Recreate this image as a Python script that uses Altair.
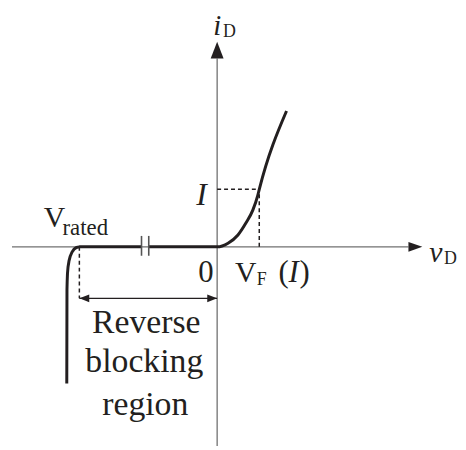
import altair as alt
import pandas as pd

# ---- diagram data (schematic units: origin at 0, v to the right, i upward) ----
# forward-conduction branch of the diode characteristic
fwd_v = [-69, -40, -10, 0, 11, 21, 29, 36, 41, 42.5, 70]
fwd_i = [0, 0, 0, 0, 3.7, 12, 24, 37, 52, 58, 137]
# reverse-blocking branch ending in breakdown at V_rated
rev_v = [-76.3, -110, -139, -142, -144.5, -146.5, -148.2, -149.5, -150.4, -151, -151.3, -151.5, -151.7]
rev_i = [0, 0, 0, -0.7, -2.5, -5.5, -9.5, -14.5, -20, -27, -35, -43, -138]

# operating point and rated voltage
V_F, I_OP = 42.5, 58
V_RATED = -139
REGION_LEVEL = -52          # height of the "reverse blocking region" dimension arrow
BREAK_V = [-76.3, -69]      # axis-break marks on the reverse branch

# axes extents
X_MIN, X_MAX = -211, 243
Y_MIN, Y_MAX = -201, 239

INK = "#231f20"
AXIS = "#707070"
SERIF = "Liberation Serif"

xs = alt.Scale(domain=[X_MIN, X_MAX], nice=False, zero=False)
ys = alt.Scale(domain=[Y_MIN, Y_MAX], nice=False, zero=False)


def X(f="x"):
    return alt.X(f"{f}:Q", scale=xs, axis=None)


def Y(f="y"):
    return alt.Y(f"{f}:Q", scale=ys, axis=None)


# curves
fwd_df = pd.DataFrame({"x": fwd_v, "y": fwd_i})
rev_df = pd.DataFrame({"x": rev_v, "y": rev_i, "o": list(range(len(rev_v)))})

fwd = alt.Chart(fwd_df).mark_line(color=INK, strokeWidth=3, interpolate="monotone").encode(x=X(), y=Y())
rev = alt.Chart(rev_df).mark_line(color=INK, strokeWidth=3, strokeJoin="round").encode(
    x=X(), y=Y(), order="o:Q")

# axes lines
axes_df = pd.DataFrame({
    "x": [X_MIN + 4, 0], "x2": [193, 0],
    "y": [0, Y_MIN], "y2": [0, 190],
})
axes = alt.Chart(axes_df).mark_rule(color=AXIS, strokeWidth=1.3).encode(
    x=X(), x2="x2:Q", y=Y(), y2="y2:Q")

# axis arrowheads
right_heads = pd.DataFrame({
    "x": [193, 207, V_RATED, V_RATED + 10, -10, 0],
    "y": [-5, 0, REGION_LEVEL, REGION_LEVEL - 4, REGION_LEVEL - 4, REGION_LEVEL],
    "y2": [5, 0, REGION_LEVEL, REGION_LEVEL + 4, REGION_LEVEL + 4, REGION_LEVEL],
    "g": ["ax", "ax", "l", "l", "r", "r"],
})
heads_h = alt.Chart(right_heads).mark_area(color=INK, orient="vertical").encode(
    x=X(), y=Y(), y2="y2:Q", detail="g:N")
up_head = pd.DataFrame({"y": [190, 207], "x": [-6.5, 0], "x2": [6.5, 0]})
heads_v = alt.Chart(up_head).mark_area(color=INK, orient="horizontal").encode(
    y=Y(), x=X(), x2="x2:Q")

# dashed guides
dash_df = pd.DataFrame({
    "x": [0, V_F, V_RATED], "x2": [V_F, V_F, V_RATED],
    "y": [I_OP, 0, 0], "y2": [I_OP, I_OP, REGION_LEVEL],
})
dashes = alt.Chart(dash_df).mark_rule(color=INK, strokeWidth=1.5, strokeDash=[4, 3]).encode(
    x=X(), x2="x2:Q", y=Y(), y2="y2:Q")

# dimension arrow shaft
shaft_df = pd.DataFrame({"x": [V_RATED], "x2": [0], "y": [REGION_LEVEL]})
shaft = alt.Chart(shaft_df).mark_rule(color=INK, strokeWidth=1.3).encode(x=X(), x2="x2:Q", y=Y())

# break marks
brk_df = pd.DataFrame({"x": BREAK_V, "y": [11, 11], "y2": [-9, -9]})
brk = alt.Chart(brk_df).mark_rule(color="#555555", strokeWidth=1.6).encode(x=X(), y=Y(), y2="y2:Q")

# labels
ital = pd.DataFrame({
    "t": ["i", "v", "I", "I"],
    "x": [-4, 214, -21, 72],
    "y": [214, -15, 42, -35],
    "s": [29, 30, 32, 31],
})
reg = pd.DataFrame({
    "t": ["D", "D", "0", "V", "F", "(", ")", "V", "rated"],
    "x": [6, 229, -19, 18, 40, 62, 83, -175, -156],
    "y": [212, -17, -35, -35, -39, -35, -35, 20, 12],
    "s": [18, 18, 31, 30, 18, 31, 31, 30, 23],
})
cen = pd.DataFrame({
    "t": ["Reverse", "blocking", "region"],
    "x": [-71.5, -73.5, -72.5],
    "y": [-87, -126.5, -169.5],
})

t_ital = alt.Chart(ital).mark_text(font=SERIF, fontStyle="italic", align="left", baseline="alphabetic",
                                    color=INK).encode(x=X(), y=Y(), text="t:N", size=alt.Size("s:Q", scale=None))
t_reg = alt.Chart(reg).mark_text(font=SERIF, align="left", baseline="alphabetic",
                                  color=INK).encode(x=X(), y=Y(), text="t:N", size=alt.Size("s:Q", scale=None))
t_cen = alt.Chart(cen).mark_text(font=SERIF, align="center", baseline="alphabetic", fontSize=34,
                                  color=INK).encode(x=X(), y=Y(), text="t:N")

chart = alt.layer(
    axes, dashes, shaft, heads_h, heads_v, fwd, rev, brk, t_ital, t_reg, t_cen
).properties(
    width=X_MAX - X_MIN, height=Y_MAX - Y_MIN,
    autosize=alt.AutoSizeParams(type="none"), padding=0,
).configure(
    background="white", font=SERIF
).configure_view(stroke=None)

chart.save("out.html", embed_options={"renderer": "svg", "actions": False})
